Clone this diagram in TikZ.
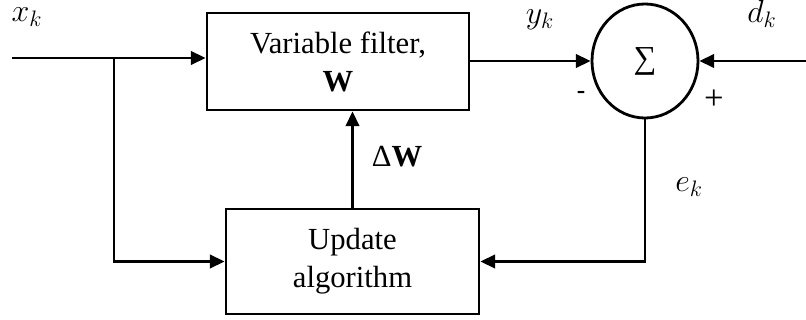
\RequirePackage{fix-cm}
\documentclass[tikz,border=0pt]{standalone}
\usepackage{fontspec}
\setmainfont{Liberation Serif}
\usetikzlibrary{arrows.meta,shapes.geometric}
\begin{document}
\begin{tikzpicture}[x=0.75pt,y=-0.75pt,
  line width=2.1pt,
  arr/.style={-{Triangle[length=11pt,width=10pt]}},
  blockbox/.style={draw,rectangle,inner sep=0pt,align=center,font=\fontsize{23}{28.5}\selectfont},
  lbl/.style={font=\fontsize{24}{28}\selectfont,inner sep=0pt,anchor=base},
  sgn/.style={font=\fontsize{19}{22}\selectfont,inner sep=0pt}]
\useasboundingbox (0,0) rectangle (806,320);
\node[blockbox,minimum width=196.5pt,minimum height=72.75pt] (filter) at (338,61.5) {Variable filter,\\ \textbf{W}};
\node[blockbox,minimum width=189.75pt,minimum height=78.75pt] (update) at (352.5,261.5) {Update\\ algorithm};
\node[draw,ellipse,inner sep=0pt,minimum width=79.5pt,minimum height=85.5pt,font=\fontsize{24}{28}\selectfont] (sum) at (645,61) {∑};
\coordinate (in) at (12,58);
\coordinate (br) at (114,58);
\coordinate (din) at (806,61);
\draw[arr] (in) -- (in -| filter.west);
\draw[arr] (br) |- (update.west);
\draw[arr] (filter.east |- sum.west) -- (sum.west);
\draw[arr] (din) -- (sum.east);
\draw[arr] (sum.south) |- (update.east);
\draw[arr] (update.north) -- (update.north |- filter.south);
\node[lbl] (xk) at (27,22) {$x_k$};
\node[lbl] (yk) at (540,24) {$y_k$};
\node[lbl] (dk) at (762,23) {$d_k$};
\node[lbl] (ek) at (689,192) {$e_k$};
\node[lbl,anchor=center,font=\fontsize{23}{28}\selectfont] (dw) at (397,157) {Δ\textbf{W}};
\node[sgn] (minus) at (581,95) {\textbf{-}};
\node[sgn,font=\fontsize{26}{30}\selectfont] (plus) at (714,100) {+};
\end{tikzpicture}
\end{document}
